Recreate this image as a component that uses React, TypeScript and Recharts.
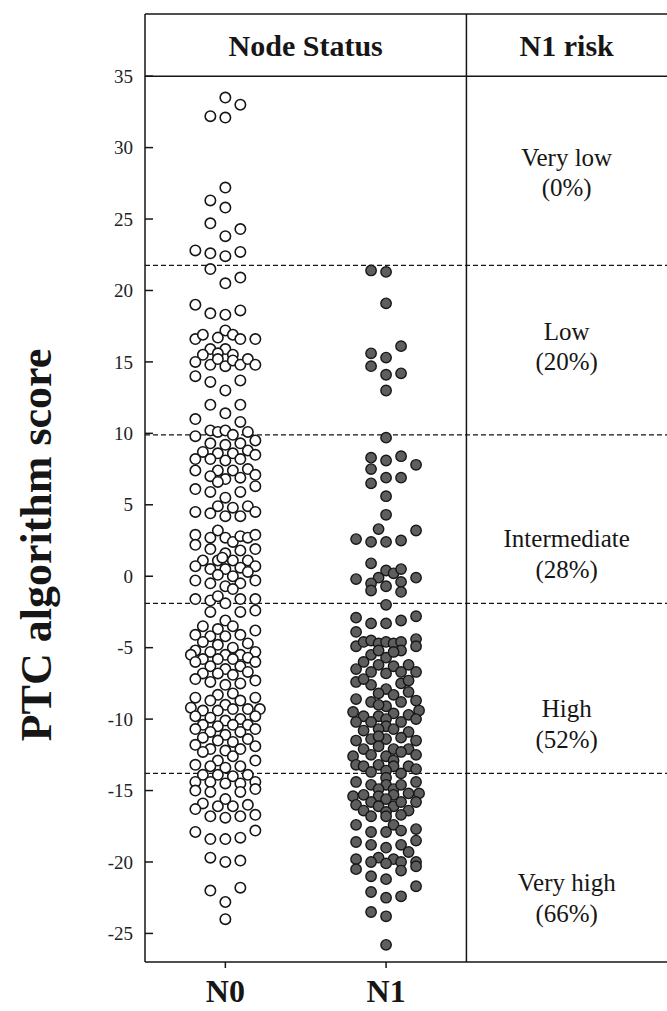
import React from 'react';
import { ScatterChart, Scatter, XAxis, YAxis, ReferenceLine, ReferenceArea, ReferenceDot } from 'recharts';

// categories and axis ticks
const groups = ['N0', 'N1'];
const yTicks = [-25, -20, -15, -10, -5, 0, 5, 10, 15, 20, 25, 30, 35];

// risk bands (cut-offs between bands, top to bottom)
const riskCutoffs = [21.75, 9.9, -1.9, -13.8];
const riskNames = ['Very low', 'Low', 'Intermediate', 'High', 'Very high'];
const riskRates = ['(0%)', '(20%)', '(28%)', '(52%)', '(66%)'];

// [jitter slot, score]
const n0Points: [number, number][] = [
  [0, 33.5], [1, 33.0], [-1, 32.2], [0, 32.1], [0, 27.2], [-1, 26.3], [0, 25.8], [-1, 24.7], [1, 24.3],
  [0, 23.8], [-2, 22.8], [-1, 22.6], [0, 22.4], [1, 22.7], [-1, 21.5], [0, 20.5], [1, 20.9],
  [-2, 19.0], [-1, 18.4], [0, 18.3], [1, 18.6],
  [-2, 16.6], [-1.5, 16.9], [-0.5, 16.7], [0, 17.2], [0.5, 16.9], [1, 16.6], [2, 16.6],
  [-1, 15.9], [0, 15.9], [-1.5, 15.5], [-0.5, 15.6], [0.5, 15.5],
  [-2, 15.0], [-1, 14.8], [-0.5, 15.2], [0, 14.7], [0.5, 15.1], [1, 14.8], [1.5, 15.2], [2, 14.8],
  [-2, 14.0], [-1, 13.6], [1, 13.7], [0, 13.0],
  [-1, 12.0], [1, 12.0], [0, 11.4], [-2, 11.0], [1, 10.8],
  [-2, 9.8], [-1, 10.2], [-0.5, 10.1], [0, 10.2], [0.5, 9.9], [1.5, 10.1], [2, 9.5],
  [-1, 9.3], [0, 9.2], [1, 9.3],
  [-1.5, 8.7], [-0.5, 8.6], [0.5, 8.6], [1.5, 8.8], [2, 8.5],
  [-2, 8.2], [-1, 8.2], [0, 8.1], [1, 8.2],
  [-2, 7.4], [-0.5, 7.4], [0.5, 7.4], [1.5, 7.5],
  [-1, 7.0], [0, 6.8], [1, 6.9], [2, 7.1], [-0.5, 6.6],
  [-2, 6.1], [-1, 5.9], [1, 5.9], [2, 6.3], [0, 5.5],
  [-0.5, 4.9], [0.5, 4.8], [1.5, 4.9], [-2, 4.5], [-1, 4.4], [0, 4.2], [1, 4.2], [2, 4.5],
  [-2, 2.9], [-1, 2.7], [-0.5, 3.2], [0, 2.7], [0.5, 2.4], [1, 2.8], [1.5, 2.7], [2, 2.9],
  [-2, 2.2], [-1, 1.9], [0, 1.6], [1, 1.8], [2, 1.9],
  [-1.5, 1.1], [-0.5, 1.1], [-0.2, 1.3], [0.5, 1.1], [1.5, 1.1],
  [-2, 0.7], [-1, 0.5], [0, 0.5], [1, 0.6], [2, 0.7],
  [-0.5, 0.1], [0.5, 0.0], [1.5, 0.3],
  [-2, -0.3], [-1, -0.5], [0, -0.7], [1, -0.5], [2, -0.3], [0.5, -0.9],
  [-2, -1.6], [-1, -1.7], [-0.5, -1.4], [0, -1.9], [1, -1.6], [2, -1.6],
  [-1, -2.5], [1, -2.5], [2, -2.4], [0, -3.1],
  [-1.5, -3.5], [-0.5, -3.7], [0.5, -3.5], [2, -3.8],
  [-2, -4.1], [-1, -4.2], [0, -4.2], [1, -4.1],
  [-1.5, -4.6], [-0.5, -4.8], [0.5, -5.0], [1.5, -4.7],
  [-2, -5.2], [-2.3, -5.5], [-1, -5.3], [0, -5.5], [1, -5.5], [2, -5.3],
  [-1.5, -5.8], [-0.5, -5.8], [0.5, -5.8], [1.5, -5.7],
  [-2, -6.0], [-1, -6.3], [0, -6.5], [1, -6.3], [2, -6.0],
  [-1.5, -6.8], [-0.5, -6.8], [0.5, -6.9], [1.5, -6.7],
  [-2, -7.2], [-1, -7.4], [0, -7.6], [1, -7.5], [2, -7.3],
  [-0.5, -8.3], [0.5, -8.2], [-2, -8.5], [-1, -8.7], [1, -8.7], [2, -8.5], [0, -9.0],
  [-2.3, -9.2], [-1.5, -9.4], [-0.5, -9.4], [0.5, -9.3], [1.5, -9.3], [2.3, -9.3],
  [-2, -9.8], [-1, -9.9], [0, -10.1], [1, -10.0], [2, -9.8],
  [-1.5, -10.4], [-0.5, -10.5], [0.5, -10.4], [1.5, -10.4],
  [-2, -10.7], [-1, -10.9], [0, -11.1], [1, -10.9], [2, -10.7],
  [-1.5, -11.3], [-0.5, -11.5], [0.5, -11.6], [1.5, -11.4],
  [-2, -11.8], [-1, -12.1], [0, -12.2], [1, -12.1], [2, -11.9],
  [-1.5, -12.3], [0.5, -12.6], [-0.5, -12.9], [2, -12.9],
  [-2, -13.2], [-1, -13.3], [0, -13.4], [1, -13.3],
  [-1.5, -13.9], [-0.5, -13.9], [0.5, -14.0], [1.5, -13.9],
  [-2, -14.4], [-1, -14.4], [0, -14.5], [1, -14.5], [2, -14.4],
  [-2, -15.0], [-1, -15.1], [1, -15.1], [2, -14.9], [0, -15.6],
  [-1.5, -15.9], [-0.5, -16.1], [0.5, -16.1], [1.5, -16.0], [-2, -16.3],
  [-1, -16.8], [0, -16.9], [1, -16.8], [2, -16.7],
  [-2, -17.9], [2, -17.8], [-1, -18.4], [0, -18.4], [1, -18.3],
  [-1, -19.7], [0, -20.0], [1, -19.9],
  [-1, -22.0], [1, -21.8], [0, -22.8], [0, -24.0],
];

const n1Points: [number, number][] = [
  [-1, 21.4], [0, 21.3], [0, 19.1], [1, 16.1], [-1, 15.6], [0, 15.3], [-1, 14.7], [0, 14.1], [1, 14.2], [0, 13.0],
  [0, 9.7], [-1, 8.3], [0, 8.1], [1, 8.4], [2, 7.8], [-1, 7.5], [0, 6.9], [1, 6.9], [-1, 6.5],
  [0, 5.6], [0, 4.3], [-0.5, 3.3], [2, 3.2],
  [-2, 2.6], [-1, 2.4], [0, 2.4], [1, 2.5],
  [-1, 0.9], [0, 0.4], [0.5, 0.2], [1, 0.5],
  [-0.5, -0.1], [-2, -0.2], [-1, -0.5], [0, -0.7], [1, -0.4], [2, -0.1],
  [-1, -1.0], [1, -1.1], [0, -2.0],
  [-2, -2.9], [-1, -3.3], [0, -3.3], [1, -3.1], [2, -2.8],
  [-2, -3.9], [-2, -4.9], [-1.5, -4.6], [-1, -4.5], [-0.5, -4.7], [0, -4.6], [0.5, -4.7], [1, -4.6], [2, -4.4],
  [1, -5.2], [2, -4.9], [-1, -5.5], [0, -5.7], [-0.5, -5.2], [0.5, -5.3],
  [-1.5, -6.0], [-0.5, -6.2], [0.5, -6.3], [1.5, -6.2],
  [-2, -6.5], [-1, -6.7], [0, -6.8], [1, -6.7], [2, -6.7],
  [-2, -7.4], [-1, -7.6], [0, -7.9], [1, -7.5], [-1.5, -7.2], [1.5, -7.3],
  [-0.5, -8.2], [0.5, -8.3], [1.5, -8.1],
  [-2, -8.6], [-1, -8.8], [0, -9.1], [1, -8.8], [2, -8.7], [-0.5, -9.0],
  [-2.2, -9.5], [-1.5, -9.8], [-0.5, -9.8], [0.5, -9.6], [1.5, -9.7], [2.2, -9.4],
  [-2, -10.2], [-1, -10.2], [0, -10.0], [1, -10.2], [2, -10.0], [0, -10.5],
  [-1.5, -10.8], [-0.5, -10.7], [0.5, -10.7], [1.5, -10.9],
  [-2, -11.5], [-1, -11.4], [0, -11.4], [1, -11.3], [2, -11.5], [-0.5, -11.2],
  [-1.5, -12.1], [-0.5, -11.9], [0.5, -12.1], [1.5, -12.1],
  [-2.2, -12.6], [-1, -12.5], [0, -12.6], [1, -12.3], [2, -12.5], [0.5, -12.9],
  [-2, -13.2], [-1.5, -13.3], [-0.5, -13.2], [0.5, -13.3], [1.5, -13.3],
  [-1, -13.7], [0, -13.6], [1, -13.8], [2, -13.5], [0, -14.1],
  [-2, -14.4], [-1, -14.6], [0, -14.6], [-0.5, -14.9], [0.5, -14.9], [1, -14.6], [2, -14.4],
  [-2.2, -15.4], [-1.5, -15.3], [1.5, -15.2], [-0.5, -15.4], [0.5, -15.3], [2.2, -15.2],
  [-2, -16.0], [-1, -15.8], [0, -15.6], [-0.5, -16.1], [0.5, -16.1], [1, -15.8], [2, -15.8],
  [-1.5, -16.4], [0, -16.5], [1.5, -16.4],
  [-1, -16.8], [0, -16.8], [1, -16.7],
  [-2, -17.4], [0.5, -17.4], [-1, -17.9], [0, -17.9], [1, -17.8], [2, -17.7],
  [-2, -18.6], [-1, -18.8], [0, -19.0], [1, -18.8], [2, -18.5], [1.5, -19.3],
  [-2, -19.8], [-0.5, -19.7], [0.5, -19.8], [-1, -20.0], [0, -20.1], [1, -20.0], [2, -20.0],
  [-2, -20.5], [1, -20.6], [2, -20.3],
  [-1, -21.0], [0, -21.2], [2, -21.7],
  [-1, -22.1], [0, -22.5], [1, -22.4],
  [-1, -23.5], [0, -23.8], [0, -25.8],
];

const W = 667;
const H = 1011;
const X_MIN = -0.5;
const X_MAX = 2.748;
const DIVIDER = 1.5;
const Y_MIN = -27;
const Y_MAX = 35;
const Y_TOP = 39.35;
const SLOT = 0.0933;
const INK = '#161616';
const FONT = '"Liberation Serif", "Times New Roman", serif';
// where each band's text sits on the score axis (layout only)
const BAND_TEXT_AT = [28.3, 16.1, 1.6, -10.3, -22.5];

const n0Data = n0Points.map(([s, v]) => ({ x: 0 + s * SLOT, y: v }));
const n1Data = n1Points.map(([s, v]) => ({ x: 1 + s * SLOT, y: v }));

const YTick = (props: any) => {
  const { x, y, payload } = props;
  return (
    <g>
      <line x1={x + 12} x2={x + 20} y1={y} y2={y} stroke={INK} strokeWidth={1.5} />
      <text x={x} y={y} dy="0.35em" textAnchor="end" fontSize={19} fontFamily={FONT} fill="#222">
        {payload.value}
      </text>
    </g>
  );
};

const XTick = (props: any) => {
  const { x, y, payload } = props;
  return (
    <text x={x} y={y} dy={32} textAnchor="middle" fontSize={32} fontWeight="bold" fontFamily={FONT} fill={INK}>
      {groups[payload.value]}
    </text>
  );
};

const AxisTitle = (props: any) => {
  const { x, y, height } = props.viewBox;
  const cx = x + 36;
  const cy = y + height / 2 + 57;
  return (
    <text
      x={cx}
      y={cy}
      transform={`rotate(-90, ${cx}, ${cy})`}
      textAnchor="middle"
      dominantBaseline="central"
      fontSize={44}
      fontWeight="bold"
      fontFamily={FONT}
      fill={INK}
    >
      PTC algorithm score
    </text>
  );
};

const headerLabel = (text: string) => (props: any) => {
  const { x, y, width, height } = props.viewBox;
  return (
    <text
      x={x + width / 2}
      y={y + height / 2}
      dy="0.35em"
      textAnchor="middle"
      fontSize={30}
      fontWeight="bold"
      fontFamily={FONT}
      fill={INK}
    >
      {text}
    </text>
  );
};

const bandLabel = (name: string, rate: string) => (props: any) => {
  const { x, y } = props.viewBox;
  return (
    <text x={x} y={y} textAnchor="middle" fontSize={25} fontFamily={FONT} fill={INK}>
      <tspan x={x} dy="-0.25em">{name}</tspan>
      <tspan x={x} dy="1.22em">{rate}</tspan>
    </text>
  );
};

const openDot = (p: any) => <circle cx={p.cx} cy={p.cy} r={5.2} fill="#fff" stroke={INK} strokeWidth={1.6} />;
const filledDot = (p: any) => <circle cx={p.cx} cy={p.cy} r={5.2} fill="#5e5e5e" stroke={INK} strokeWidth={1.4} />;

export default function App() {
  return (
    <div style={{ position: 'absolute', left: 0, top: 0, width: W, height: H, background: '#fff' }}>
      <ScatterChart width={W} height={H} margin={{ top: 14, right: 0, bottom: 0, left: 0 }}>
        <XAxis
          type="number"
          dataKey="x"
          domain={[X_MIN, X_MAX]}
          ticks={[0, 1]}
          allowDataOverflow
          height={49}
          tickSize={6}
          tickMargin={2}
          tick={<XTick />}
          axisLine={{ stroke: INK, strokeWidth: 1.5 }}
          tickLine={{ stroke: INK, strokeWidth: 1.5 }}
        />
        <YAxis
          type="number"
          dataKey="y"
          domain={[Y_MIN, Y_TOP]}
          ticks={yTicks}
          allowDataOverflow
          width={145}
          tickSize={0}
          tickMargin={12}
          tickLine={false}
          tick={<YTick />}
          axisLine={{ stroke: INK, strokeWidth: 1.5 }}
          label={{ content: (p: any) => <AxisTitle {...p} /> }}
        />
        {riskCutoffs.map((v) => (
          <ReferenceLine key={v} y={v} stroke={INK} strokeWidth={1.3} strokeDasharray="5 3" />
        ))}
        <ReferenceLine y={Y_MAX} stroke={INK} strokeWidth={1.5} />
        <ReferenceLine y={Y_TOP} stroke={INK} strokeWidth={1.5} />
        <ReferenceLine x={DIVIDER} stroke={INK} strokeWidth={1.5} />
        <ReferenceArea x1={X_MIN} x2={DIVIDER} y1={Y_MAX} y2={Y_TOP} fill="none" label={headerLabel('Node Status')} />
        <ReferenceArea x1={DIVIDER} x2={X_MAX} y1={Y_MAX} y2={Y_TOP} fill="none" label={headerLabel('N1 risk')} />
        {riskNames.map((name, i) => (
          <ReferenceDot
            key={name}
            x={(DIVIDER + X_MAX) / 2}
            y={BAND_TEXT_AT[i]}
            r={0}
            fill="none"
            stroke="none"
            label={bandLabel(name, riskRates[i])}
          />
        ))}
        <Scatter name="N0" data={n0Data} shape={openDot} isAnimationActive={false} />
        <Scatter name="N1" data={n1Data} shape={filledDot} isAnimationActive={false} />
      </ScatterChart>
    </div>
  );
}
